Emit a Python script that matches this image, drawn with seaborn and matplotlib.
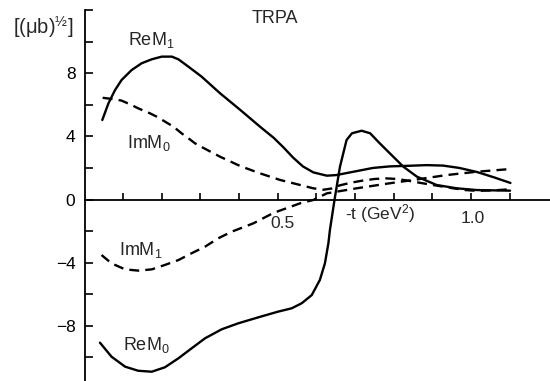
import matplotlib
matplotlib.use('Agg')
import matplotlib.pyplot as plt
import seaborn as sns
import pandas as pd

# ---------------- data ----------------
t_rem1 = [0.046, 0.062, 0.079, 0.096, 0.122, 0.148, 0.174, 0.200, 0.226, 0.243,
          0.269, 0.303, 0.351, 0.403, 0.454, 0.490, 0.515, 0.540, 0.565, 0.592, 0.627,
          0.652, 0.700, 0.746, 0.790, 0.842, 0.885, 0.928, 0.970, 1.016, 1.060, 1.102]
y_rem1 = [5.04, 6.10, 6.94, 7.58, 8.21, 8.64, 8.89, 9.06, 9.06, 8.89,
          8.42, 7.79, 6.73, 5.68, 4.62, 3.90, 3.30, 2.65, 2.10, 1.72, 1.51,
          1.55, 1.78, 2.00, 2.10, 2.14, 2.18, 2.15, 2.00, 1.74, 1.40, 1.05]

t_imm0 = [0.047, 0.079, 0.096, 0.122, 0.139, 0.169, 0.187, 0.213, 0.230, 0.251,
          0.269, 0.286, 0.303, 0.351, 0.403, 0.454, 0.506, 0.558, 0.592, 0.618,
          0.640, 0.661, 0.690, 0.720, 0.750, 0.780, 0.810, 0.840, 0.870, 0.894,
          0.954, 0.985, 1.015, 1.060, 1.101]
y_imm0 = [6.45, 6.35, 6.27, 5.99, 5.78, 5.47, 5.25, 4.87, 4.62, 4.20,
          3.88, 3.56, 3.33, 2.71, 2.12, 1.66, 1.24, 0.92, 0.71, 0.62,
          0.70, 0.90, 1.07, 1.20, 1.30, 1.34, 1.30, 1.18, 1.05, 0.95,
          0.71, 0.60, 0.55, 0.58, 0.65]

t_imm1 = [0.044, 0.070, 0.105, 0.139, 0.174, 0.208, 0.243, 0.277, 0.312, 0.346,
          0.381, 0.437, 0.489, 0.558, 0.592, 0.627, 0.704, 0.790, 0.851, 0.937,
          1.015, 1.101]
y_imm1 = [-3.52, -4.05, -4.43, -4.51, -4.43, -4.15, -3.84, -3.41, -2.99, -2.46,
          -2.04, -1.51, -0.85, -0.24, -0.03, 0.39, 0.71, 1.03, 1.24, 1.55,
          1.76, 1.93]

t_rem0 = [0.040, 0.070, 0.105, 0.139, 0.174, 0.208, 0.243, 0.277, 0.312, 0.355,
          0.398, 0.450, 0.501, 0.536, 0.562, 0.588, 0.609, 0.622, 0.631, 0.635,
          0.647, 0.661, 0.678, 0.692, 0.717, 0.739, 0.764, 0.799, 0.825, 0.860,
          0.911, 0.963, 1.015, 1.101]
y_rem0 = [-9.08, -9.97, -10.60, -10.86, -10.92, -10.64, -10.07, -9.44, -8.80, -8.23,
          -7.85, -7.47, -7.11, -6.90, -6.58, -6.06, -5.10, -4.05, -2.78, -1.93,
          0.00, 2.08, 3.77, 4.20, 4.36, 4.20, 3.56, 2.71, 2.08, 1.45,
          0.92, 0.71, 0.60, 0.56]

curve_names = ['ReM1', 'ImM0', 'ImM1', 'ReM0']
curve_t = [t_rem1, t_imm0, t_imm1, t_rem0]
curve_y = [y_rem1, y_imm0, y_imm1, y_rem0]
curve_dashed = [False, True, True, False]

y_ticks = [-10, -8, -6, -4, -2, 0, 2, 4, 6, 8, 10, 12]
y_ticklabels = ['', '\u22128', '', '\u22124', '', '0', '', '4', '', '8', '', '']
x_ticks = [0.1, 0.2, 0.3, 0.4, 0.5, 0.6, 0.7, 0.8, 0.9, 1.0, 1.1]
x_label_vals = [0.511, 1.004]
x_label_text = ['0.5', '1.0']

# ---------------- style ----------------
sns.set_theme(style='white')
plt.rcParams['font.family'] = ['Liberation Sans', 'DejaVu Sans']
plt.rcParams['mathtext.fontset'] = 'custom'
plt.rcParams['mathtext.rm'] = 'Liberation Sans'
plt.rcParams['mathtext.it'] = 'Liberation Sans:italic'
plt.rcParams['mathtext.default'] = 'regular'
plt.rcParams['lines.dashed_pattern'] = [4.2, 2.6]

fig = plt.figure(figsize=(5.5, 3.81), dpi=100)
ax = fig.add_axes([0, 0, 1, 1])

frames = []
for n, t, y in zip(curve_names, curve_t, curve_y):
    frames.append(pd.DataFrame({'t': t, 'v': y, 'curve': n}))
df = pd.concat(frames, ignore_index=True)

for n, dashed in zip(curve_names, curve_dashed):
    sub = df[df['curve'] == n]
    sns.lineplot(data=sub, x='t', y='v', ax=ax, color='black', lw=1.7,
                 linestyle='--' if dashed else '-', sort=False, estimator=None,
                 legend=False)

xmin, xmax = -84.5 / 386.5, (550 - 84.5) / 386.5
ymin, ymax = -(381 - 199.5) / 15.77, 199.5 / 15.77
ax.set_xlim(xmin, xmax)
ax.set_ylim(ymin, ymax)

for s in ['top', 'right']:
    ax.spines[s].set_visible(False)
ax.spines['left'].set_position(('data', 0))
ax.spines['bottom'].set_position(('data', 0))
ax.spines['left'].set_bounds(ymin, 12.02)
ax.spines['bottom'].set_bounds(0, xmax)
for s in ['left', 'bottom']:
    ax.spines[s].set_color('black')
    ax.spines[s].set_linewidth(1.3)

ax.set_yticks(y_ticks)
ax.set_yticklabels(y_ticklabels)
ax.set_xticks(x_ticks)
ax.set_xticklabels([''] * len(x_ticks))
ax.tick_params(axis='y', direction='in', length=5.4, width=1.2, pad=6.5,
               labelsize=12.5, colors='black', left=True)
ax.tick_params(axis='x', direction='in', length=5.0, width=1.2,
               labelsize=12, colors='black', bottom=True)
ax.set_xlabel('')
ax.set_ylabel('')
ax.grid(False)

# x tick labels placed as text (as in the reference)
ax.text(x_label_vals[0], -1.52, x_label_text[0], ha='center', va='center', fontsize=12.5)
ax.text(x_label_vals[1], -1.20, x_label_text[1], ha='center', va='center', fontsize=12.5)

# annotations
ax.text(-0.107, 10.95, '[(\u03bcb)$^{\u00bd}$]', ha='center', va='center', fontsize=14.5)
ax.text(0.433, 11.45, 'TRPA', ha='left', va='center', fontsize=13)
ax.text(0.112, 10.1, 'ReM$_1$', ha='left', va='center', fontsize=13)
ax.text(0.110, 3.6, 'ImM$_0$', ha='left', va='center', fontsize=13)
ax.text(0.089, -3.2, 'ImM$_1$', ha='left', va='center', fontsize=13)
ax.text(0.100, -9.2, 'ReM$_0$', ha='left', va='center', fontsize=13)
ax.text(0.674, -0.92, '-t (GeV$^2$)', ha='left', va='center', fontsize=12.5)

fig.savefig('out.png', dpi=100)
